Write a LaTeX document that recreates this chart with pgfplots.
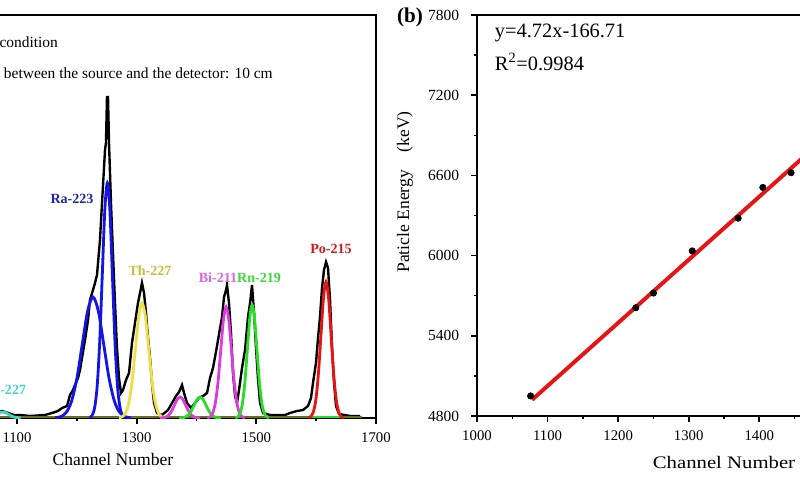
\documentclass[border=0pt]{standalone}
\usepackage{fontspec}
\setmainfont{Liberation Serif}
\usepackage{pgfplots}
\pgfplotsset{compat=1.18}

\definecolor{fitblue}{RGB}{20,20,230}
\definecolor{lblblue}{RGB}{30,40,170}
\definecolor{fityellow}{RGB}{235,225,70}
\definecolor{lblyellow}{RGB}{200,190,60}
\definecolor{fitmag}{RGB}{220,60,220}
\definecolor{lblmag}{RGB}{220,100,220}
\definecolor{fitgreen}{RGB}{40,220,40}
\definecolor{lblgreen}{RGB}{60,215,60}
\definecolor{fitred}{RGB}{230,20,20}
\definecolor{lblred}{RGB}{200,30,30}
\definecolor{fitcyan}{RGB}{64,215,195}
\definecolor{baseolive}{RGB}{110,110,30}

\pgfplotsset{
  panel/.style={
    scale only axis,
    anchor=south west,
    tick align=outside,
    axis line style={line width=1.4pt},
    major tick style={line width=1.2pt, black},
    minor tick style={line width=1.0pt, black},
    major tick length=1.5mm,
    minor tick length=0.8mm,
    tick label style={font=\fontsize{10.5}{12}\selectfont},
    xticklabel shift=2.5pt,
    /pgf/number format/assume math mode=true,
    /pgf/number format/set thousands separator={},
  }
}

\begin{document}
\begin{tikzpicture}
\useasboundingbox (0,0) rectangle (200mm,120mm);
\clip (0,0) rectangle (200mm,120mm);

% (a) spectrum
\begin{axis}[panel,
  at={(-40.625mm,15.5mm)},
  width=134.625mm, height=100.75mm,
  xmin=800, xmax=1700, ymin=0, ymax=403,
  xtick={900,1100,1300,1500,1700},
  minor xtick={1000,1200,1400,1600},
  ytick=\empty,
  xtick pos=bottom,
]
% measured spectrum
\addplot[black, line width=1.7pt, sharp plot] coordinates {
(810,2) (1000,2) (1050,3) (1065,5) (1075,7) (1085,5) (1095,3) (1105,3)
(1121.7,2) (1146.8,3) (1158.5,5) (1168.5,7) (1175.2,10) (1183.6,12)
(1188.6,23) (1193.6,28) (1196.9,33) (1202,40) (1205.3,48) (1213.7,78)
(1218.7,98) (1222,118) (1227,128) (1230.4,135) (1233.7,143) (1238.7,178)
(1242.1,215) (1245.4,250) (1247.1,268) (1248.7,275) (1250.4,321)
(1252.1,321) (1253.8,275) (1257.1,215) (1260.4,165) (1263.8,115)
(1267.1,70) (1270.5,40) (1273.8,25) (1277.2,28) (1282.2,38) (1287.2,45)
(1292.2,75) (1297.2,95) (1302.2,115) (1307.3,130) (1308.9,135)
(1312.3,125) (1315.6,105) (1319,80) (1322.3,60) (1325.6,35) (1329,15)
(1334,5) (1342.4,3) (1352.4,8) (1359.1,15) (1365.8,22) (1370.8,26)
(1375.8,33) (1379.2,25) (1384.1,15) (1390.8,10) (1397.5,15) (1404.2,20)
(1410.9,22) (1417.6,25) (1422.6,40) (1427.6,50) (1434.3,72) (1439.4,90)
(1442.7,101) (1446,121) (1449.4,128) (1451,133) (1454.3,115)
(1457.7,85) (1461,45) (1464.4,22) (1467.7,15) (1471.1,28) (1476.1,50)
(1481.1,68) (1486.1,101) (1489.5,115) (1492.8,133) (1496.2,105)
(1499.5,70) (1502.9,38) (1506.2,15) (1511.2,5) (1523,3) (1548,3)
(1556.3,5) (1568,7) (1578,8) (1586.4,12) (1591.4,20) (1594.7,35)
(1599.7,55) (1603.1,80) (1606.4,101) (1609.8,130) (1613.1,148)
(1616.5,156) (1619.8,150) (1623.2,118) (1626.5,70) (1629.9,35)
(1633.2,12) (1638.2,4) (1656.6,2) (1673.3,2)
};
% baseline of the fits
\addplot[baseolive, line width=1.6pt] coordinates {(1000,1) (1677,1)};
% Ac-227
\addplot[fitcyan, line width=2pt, smooth] coordinates {
(1046,0.1) (1051,0.3) (1056,0.8) (1061,1.9) (1066,3.6) (1071,5.3) (1076,6)
(1081,5.3) (1086,3.6) (1091,1.9) (1096,0.8) (1101,0.3) (1106,0.1)};
% Ra-223
\addplot[fitblue, line width=2pt, smooth] coordinates {
(1164,0.3) (1173,1.3) (1182,5.3) (1191,16.4) (1200,39.3) (1209,73.4)
(1218,106.8) (1227,121) (1236,106.8) (1245,73.4) (1254,39.3)
(1263,16.4) (1272,5.3) (1281,1.3) (1290,0.3)};
\addplot[fitblue, line width=2pt, smooth] coordinates {
(1221.25,0.5) (1225.5,2.6) (1229.75,10.3) (1234,31.8) (1238.25,76.3)
(1242.5,142.5) (1246.75,207.4) (1251,235) (1255.25,207.4) (1259.5,142.5)
(1263.75,76.3) (1268,31.8) (1272.25,10.3) (1276.5,2.6) (1280.75,0.5)};
% Th-227
\addplot[fityellow, line width=2pt, smooth] coordinates {
(1270.5,0.3) (1276,1.3) (1281.5,5.0) (1287,15.6) (1292.5,37.3)
(1298,69.7) (1303.5,101.5) (1309,115) (1314.5,101.5) (1320,69.7)
(1325.5,37.3) (1331,15.6) (1336.5,5.0) (1342,1.3) (1347.5,0.3)};
% Bi-211 (small)
\addplot[fitmag, line width=2pt, smooth] coordinates {
(1339.25,0.05) (1344,0.2) (1348.75,0.9) (1353.5,2.8) (1358.25,6.8)
(1363,12.7) (1367.75,18.5) (1372.5,21) (1377.25,18.5) (1382,12.7)
(1386.75,6.8) (1391.5,2.8) (1396.25,0.9) (1401,0.2) (1405.75,0.05)};
% Rn-219 (small)
\addplot[fitgreen, line width=2pt, smooth] coordinates {
(1371,0.05) (1376,0.2) (1381,0.9) (1386,2.8) (1391,6.8) (1396,12.7)
(1401,18.5) (1406,21) (1411,18.5) (1416,12.7) (1421,6.8) (1426,2.8)
(1431,0.9) (1436,0.2) (1441,0.05)};
% Bi-211
\addplot[fitmag, line width=2pt, smooth] coordinates {
(1418,0.2) (1422.5,1.2) (1427,4.9) (1431.5,15.0) (1436,36.0)
(1440.5,67.3) (1445,98.0) (1449.5,111) (1454,98.0) (1458.5,67.3)
(1463,36.0) (1467.5,15.0) (1472,4.9) (1476.5,1.2) (1481,0.2)};
% Rn-219
\addplot[fitgreen, line width=2pt, smooth] coordinates {
(1465,0.2) (1469,1.3) (1473,5.0) (1477,15.3) (1481,36.7) (1485,68.5)
(1489,99.7) (1493,113) (1497,99.7) (1501,68.5) (1505,36.7) (1509,15.3)
(1513,5.0) (1517,1.3) (1521,0.2)};
\addplot[fitgreen, line width=1.6pt] coordinates {(1590,1) (1640,1)};
% Po-215
\addplot[fitred, line width=2pt, smooth] coordinates {
(1586.75,0.3) (1591,1.5) (1595.25,6.0) (1599.5,18.4) (1603.75,44.2)
(1608,82.5) (1612.25,120.0) (1616.5,136) (1620.75,120.0) (1625,82.5)
(1629.25,44.2) (1633.5,18.4) (1637.75,6.0) (1642,1.5) (1646.25,0.3)};
\end{axis}

% (b) calibration
\begin{axis}[panel,
  at={(119.25mm,16mm)},
  width=123.5mm, height=100.25mm,
  xmin=1000, xmax=1700, ymin=4800, ymax=7800,
  xtick={1000,1100,...,1700},
  minor xtick={1050,1150,...,1650},
  ytick={4800,5400,...,7800},
  minor ytick={5100,5700,...,7500},
  xtick pos=bottom, ytick pos=left,
  yticklabel shift=5pt,
  yticklabel style={font=\fontsize{11}{13}\selectfont},
]
\addplot[fitred, line width=2.8pt] coordinates {(1078,4921) (1625,7503)};
\addplot[only marks, mark=*, mark size=2.3pt, black] coordinates {
(1076,4950) (1225,5610) (1250,5720) (1305,6035) (1370,6280)
(1405,6510) (1445,6620) (1493,6819) (1616,7386)};
\end{axis}

% texts, panel (a)
\node[anchor=west, font=\fontsize{11}{13}\selectfont] at (-15mm,109.5mm) {Vacuum condition};
\node[anchor=west, font=\fontsize{11}{13}\selectfont] at (-14.75mm,101.75mm) {Distance between the source and the detector: 10 cm};
\begin{scope}[every node/.style={font=\fontsize{10}{12}\selectfont\bfseries}]
\node[text=lblblue] at (18mm,70.25mm) {Ra-223};
\node[text=lblyellow] at (37.5mm,52.25mm) {Th-227};
\node[text=lblmag] at (54.5mm,50.5mm) {Bi-211};
\node[text=lblgreen] at (64.75mm,50.5mm) {Rn-219};
\node[text=lblred] at (82.75mm,57.75mm) {Po-215};
\node[text=fitcyan] at (1.25mm,22.5mm) {Ac-227};
\end{scope}
\node[font=\fontsize{12.5}{14}\selectfont] at (28.25mm,5.25mm) {Channel Number};

% texts, panel (b)
\node[font=\fontsize{15}{17}\selectfont\bfseries] at (102.5mm,115.75mm) {(b)};
\node[anchor=west, font=\fontsize{14.5}{17}\selectfont] at (122.5mm,111.75mm) {y=4.72x-166.71};
\node[anchor=west, font=\fontsize{14.5}{17}\selectfont] at (122.5mm,104.5mm) {R\textsuperscript{2}=0.9984};
\node[rotate=90, font=\fontsize{12.5}{14}\selectfont] at (101.25mm,72mm) {Paticle Energy\quad(keV)};
\node[xscale=1.18, font=\fontsize{12.5}{14}\selectfont] at (181mm,4.5mm) {Channel Number};
\end{tikzpicture}
\end{document}
